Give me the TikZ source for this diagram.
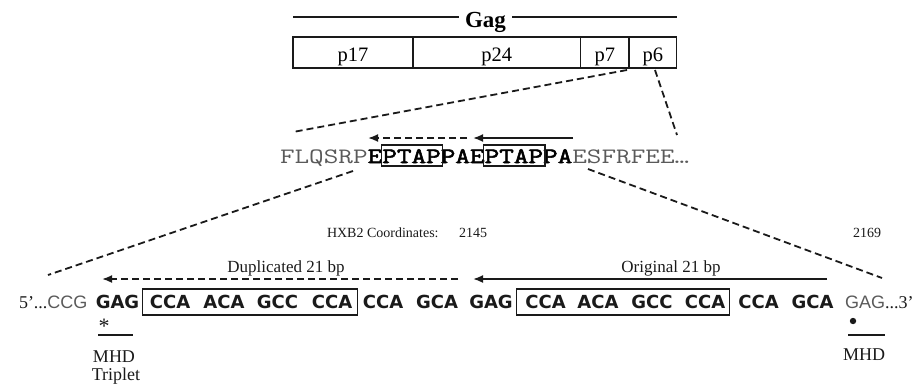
\documentclass[tikz,border=0pt]{standalone}
\usepackage{fontspec}
\setmainfont{Liberation Serif}
\newfontfamily\monofont{Latin Modern Mono}[FakeStretch=1.29]
\newfontfamily\monoboldfont{Latin Modern Mono}[FakeStretch=1.29,FakeBold=2.5]
\newfontfamily\codonfont{DejaVu Sans}
\newfontfamily\graysans{Liberation Sans}
\usetikzlibrary{arrows.meta,calc}
\definecolor{seqgray}{HTML}{5A5A5A}
\definecolor{ink}{HTML}{1A1A1A}
\begin{document}
\begin{tikzpicture}[x=1pt,y=-1pt,
  segbox/.style={draw=ink, line width=1.5pt, minimum height=31pt, inner sep=0pt, outer sep=0pt, anchor=north west, text depth=0pt, text height=17pt, font=\fontsize{20.5}{20.5}\selectfont},
  dashline/.style={draw=ink, dash pattern=on 7pt off 4pt, line width=1.8pt},
  solidline/.style={draw=ink, line width=1.8pt},
  arrowtip/.style={-{Latex[length=10pt,width=8pt]}},
  seq/.style={inner sep=0pt, outer sep=0pt, anchor=base west, text=seqgray, font=\monofont\fontsize{22}{22}\selectfont},
  seqb/.style={seq, text=black, font=\monoboldfont\fontsize{22}{22}\selectfont},
  codon/.style={inner sep=0pt, outer sep=0pt, anchor=base, text=ink, font=\codonfont\bfseries\fontsize{18}{18}\selectfont},
  rowtext/.style={inner sep=0pt, outer sep=0pt, anchor=base west, text=ink, font=\fontsize{18}{18}\selectfont},
  label/.style={inner sep=0pt, outer sep=0pt, anchor=base, text=ink, font=\fontsize{17}{17}\selectfont},
  coordlabel/.style={inner sep=0pt, outer sep=0pt, anchor=base west, text=ink, font=\fontsize{14}{14}\selectfont},
  framebox/.style={draw=ink, line width=1.2pt}
]
\useasboundingbox (0,0) rectangle (917,389);

% ---- Gag header ----
\node[inner xsep=6pt, inner ysep=0pt, anchor=base, font=\bfseries\fontsize{23}{23}\selectfont] (gag) at (485.5,27) {Gag};
\coordinate (gagL) at (293,17);
\coordinate (gagR) at (677,17);
\draw[solidline] (gagL) -- (gagL -| gag.west);
\draw[solidline] (gag.east |- gagR) -- (gagR);

\node[segbox, minimum width=120pt] (p17) at (293,37) {p17};
\node[segbox, minimum width=167.5pt] (p24) at (p17.north east) {p24};
\node[segbox, minimum width=48.5pt] (p7) at (p24.north east) {p7};
\node[segbox, minimum width=47.5pt] (p6) at (p7.north east) {p6};

% ---- amino-acid sequence ----
\node[seq] (s1) at (280,163) {FLQSRP};
\node[seqb] (s2) at (s1.base east) {E};
\node[seqb] (s3) at (s2.base east) {PTAP};
\node[seqb] (s4) at (s3.base east) {PAE};
\node[seqb] (s5) at (s4.base east) {PTAP};
\node[seqb] (s6) at (s5.base east) {PA};
\node[seq] (s7) at (s6.base east) {ESFRFEE…};
\draw[framebox] ($(s3.base west)+(-1,-18)$) rectangle ($(s3.base east)+(2,3)$);
\draw[framebox] ($(s5.base west)+(-1,-18)$) rectangle ($(s5.base east)+(2,3)$);

\coordinate (sdS) at (467,138);
\coordinate (sdE) at (368,138);
\coordinate (ssS) at (573,138);
\coordinate (ssE) at (473,138);
\draw[dashline, arrowtip] (sdS) -- (sdE);
\draw[solidline, arrowtip] (ssS) -- (ssE);

% ---- zoom connectors (top) ----
\coordinate (zTL) at ($(p6.south west)+(-2,2)$);
\coordinate (zTR) at (655,70);
\coordinate (seqL) at (293,132);
\coordinate (seqR) at (677,135);
\draw[dashline] (zTL) -- (seqL);
\draw[dashline] (zTR) -- (seqR);

% ---- zoom connectors (bottom) ----
\coordinate (seqBL) at (353,171);
\coordinate (seqBR) at (588,169);
\coordinate (rowL) at (48,275);
\coordinate (rowR) at (882,278);
\draw[dashline] (seqBL) -- (rowL);
\draw[dashline] (seqBR) -- (rowR);

% ---- HXB2 coordinates ----
\node[coordlabel] (hxb) at (327,237) {HXB2 Coordinates:};
\node[coordlabel] (c2145) at (459,237) {2145};
\node[coordlabel] (c2169) at (853,237) {2169};

% ---- nucleotide row ----
\node[rowtext] (five) at (19,308) {5'...\textcolor{seqgray}{\graysans CCG}};
\node[codon] (n0) at (117.5,308) {GAG};
\node[codon] (n1) at (170,308) {CCA};
\node[codon] (n2) at (224,308) {ACA};
\node[codon] (n3) at (277.5,308) {GCC};
\node[codon] (n4) at (332,308) {CCA};
\node[codon] (n5) at (383,308) {CCA};
\node[codon] (n6) at (437,308) {GCA};
\node[codon] (n7) at (491,308) {GAG};
\node[codon] (n8) at (545.5,308) {CCA};
\node[codon] (n9) at (598,308) {ACA};
\node[codon] (n10) at (652,308) {GCC};
\node[codon] (n11) at (705,308) {CCA};
\node[codon] (n12) at (758.5,308) {CCA};
\node[codon] (n13) at (812.5,308) {GCA};
\node[rowtext] (three) at (845,308) {\textcolor{seqgray}{\graysans GAG}...3'};
\draw[framebox] ($(n1.base west)+(-7,-19)$) rectangle ($(n4.base east)+(5,7)$);
\draw[framebox] ($(n8.base west)+(-9,-19)$) rectangle ($(n11.base east)+(4,7)$);

% ---- 21 bp arrows ----
\coordinate (dupS) at (458,279);
\coordinate (dupE) at (102,279);
\coordinate (origS) at (827,279);
\coordinate (origE) at (473,279);
\draw[dashline, arrowtip] (dupS) -- (dupE);
\draw[solidline, arrowtip] (origS) -- (origE);
\node[label] (dup) at (286,272) {Duplicated 21 bp};
\node[label] (orig) at (671,272) {Original 21 bp};

% ---- MHD marks ----
\node[inner sep=0pt, anchor=base, text=ink, font=\fontsize{22}{22}\selectfont] (star) at (104,333) {*};
\coordinate (ulL1) at (98,335);
\coordinate (ulL2) at (133,335);
\draw[solidline] (ulL1) -- (ulL2);
\node[rowtext, anchor=base] (mhd1) at (114,362) {MHD};
\node[rowtext, anchor=base] (trip) at (116,380) {Triplet};

\fill[ink] (853,321) circle (3.2pt) coordinate (dot);
\coordinate (ulR1) at (848,335);
\coordinate (ulR2) at (885,335);
\draw[solidline] (ulR1) -- (ulR2);
\node[rowtext, anchor=base] (mhd2) at (864,360) {MHD};
\end{tikzpicture}
\end{document}
